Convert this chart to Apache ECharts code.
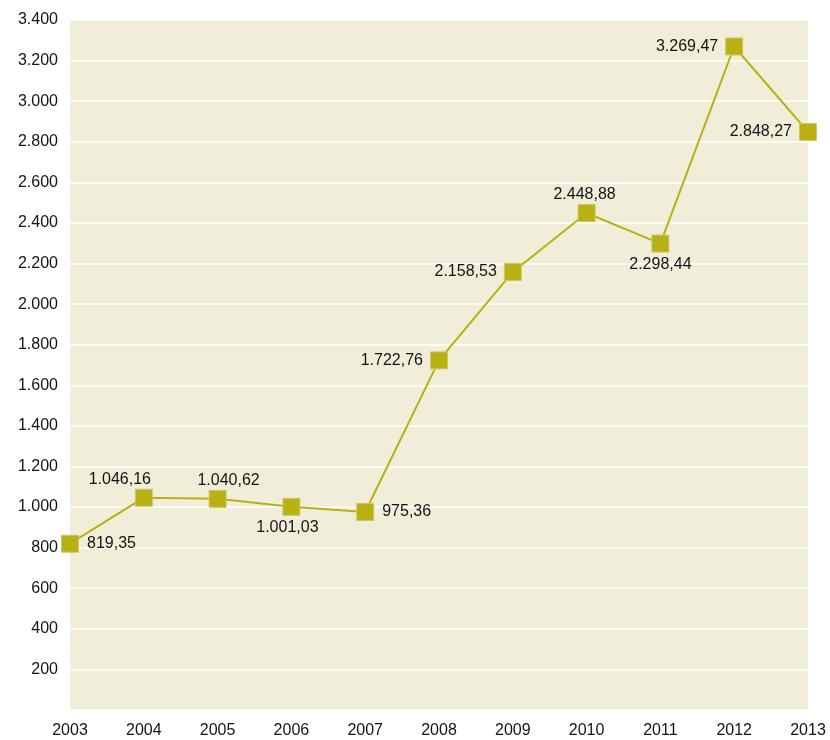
<!DOCTYPE html>
<html><head><meta charset="utf-8">
<script src="https://cdn.jsdelivr.net/npm/echarts@6/dist/echarts.min.js"></script>
<style>html,body{margin:0;padding:0;background:#fff}#c{width:830px;height:740px}</style>
</head><body><div id="c"></div>
<script>
const years = ['2003','2004','2005','2006','2007','2008','2009','2010','2011','2012','2013'];
const values = [819.35,1046.16,1040.62,1001.03,975.36,1722.76,2158.53,2448.88,2298.44,3269.47,2848.27];
const labelPos = ['right','top','top','bottom','right','left','left','top','bottom','left','left'];
const labelShift = [0,-24,11,-4,0,0,0,-2,0,0,0];

function fmt(v, dec){
  const s = v.toFixed(dec);
  let [i, d] = s.split('.');
  i = i.replace(/\B(?=(\d{3})+(?!\d))/g, '.');
  return d ? i + ',' + d : i;
}
const chart = echarts.init(document.getElementById('c'));
const font = 'Liberation Sans, Arial, sans-serif';
const dist = {right:8, left:7, top:1, bottom:4};
chart.setOption({
  animation:false,
  grid:{left:70,right:22,top:20,bottom:30,show:true,backgroundColor:'#f0eed8',borderWidth:0},
  xAxis:{type:'category',data:years,boundaryGap:false,
    axisLine:{show:false},axisTick:{show:false},
    axisLabel:{color:'#141414',fontSize:16,fontFamily:font,margin:13}},
  yAxis:{type:'value',min:0,max:3400,interval:200,
    axisLine:{show:false},axisTick:{show:false},
    splitLine:{lineStyle:{color:'#ffffff',width:1.5}},
    axisLabel:{color:'#141414',fontSize:16,fontFamily:font,margin:12,
      formatter:v=> v===0 ? '' : fmt(v,0)}},
  series:[{type:'line',
    data:values.map((v,i)=>({value:v,label:{position:labelPos[i],distance:dist[labelPos[i]],offset:[labelShift[i],0]}})),
    symbol:'rect',symbolSize:17,
    lineStyle:{color:'#b9b014',width:2},
    itemStyle:{color:'#b9b014',borderColor:'#cdc76a',borderWidth:1},
    label:{show:true,color:'#141414',fontSize:16,fontFamily:font,
      formatter:p=>fmt(p.value,2)}
  }]
});
</script></body></html>
